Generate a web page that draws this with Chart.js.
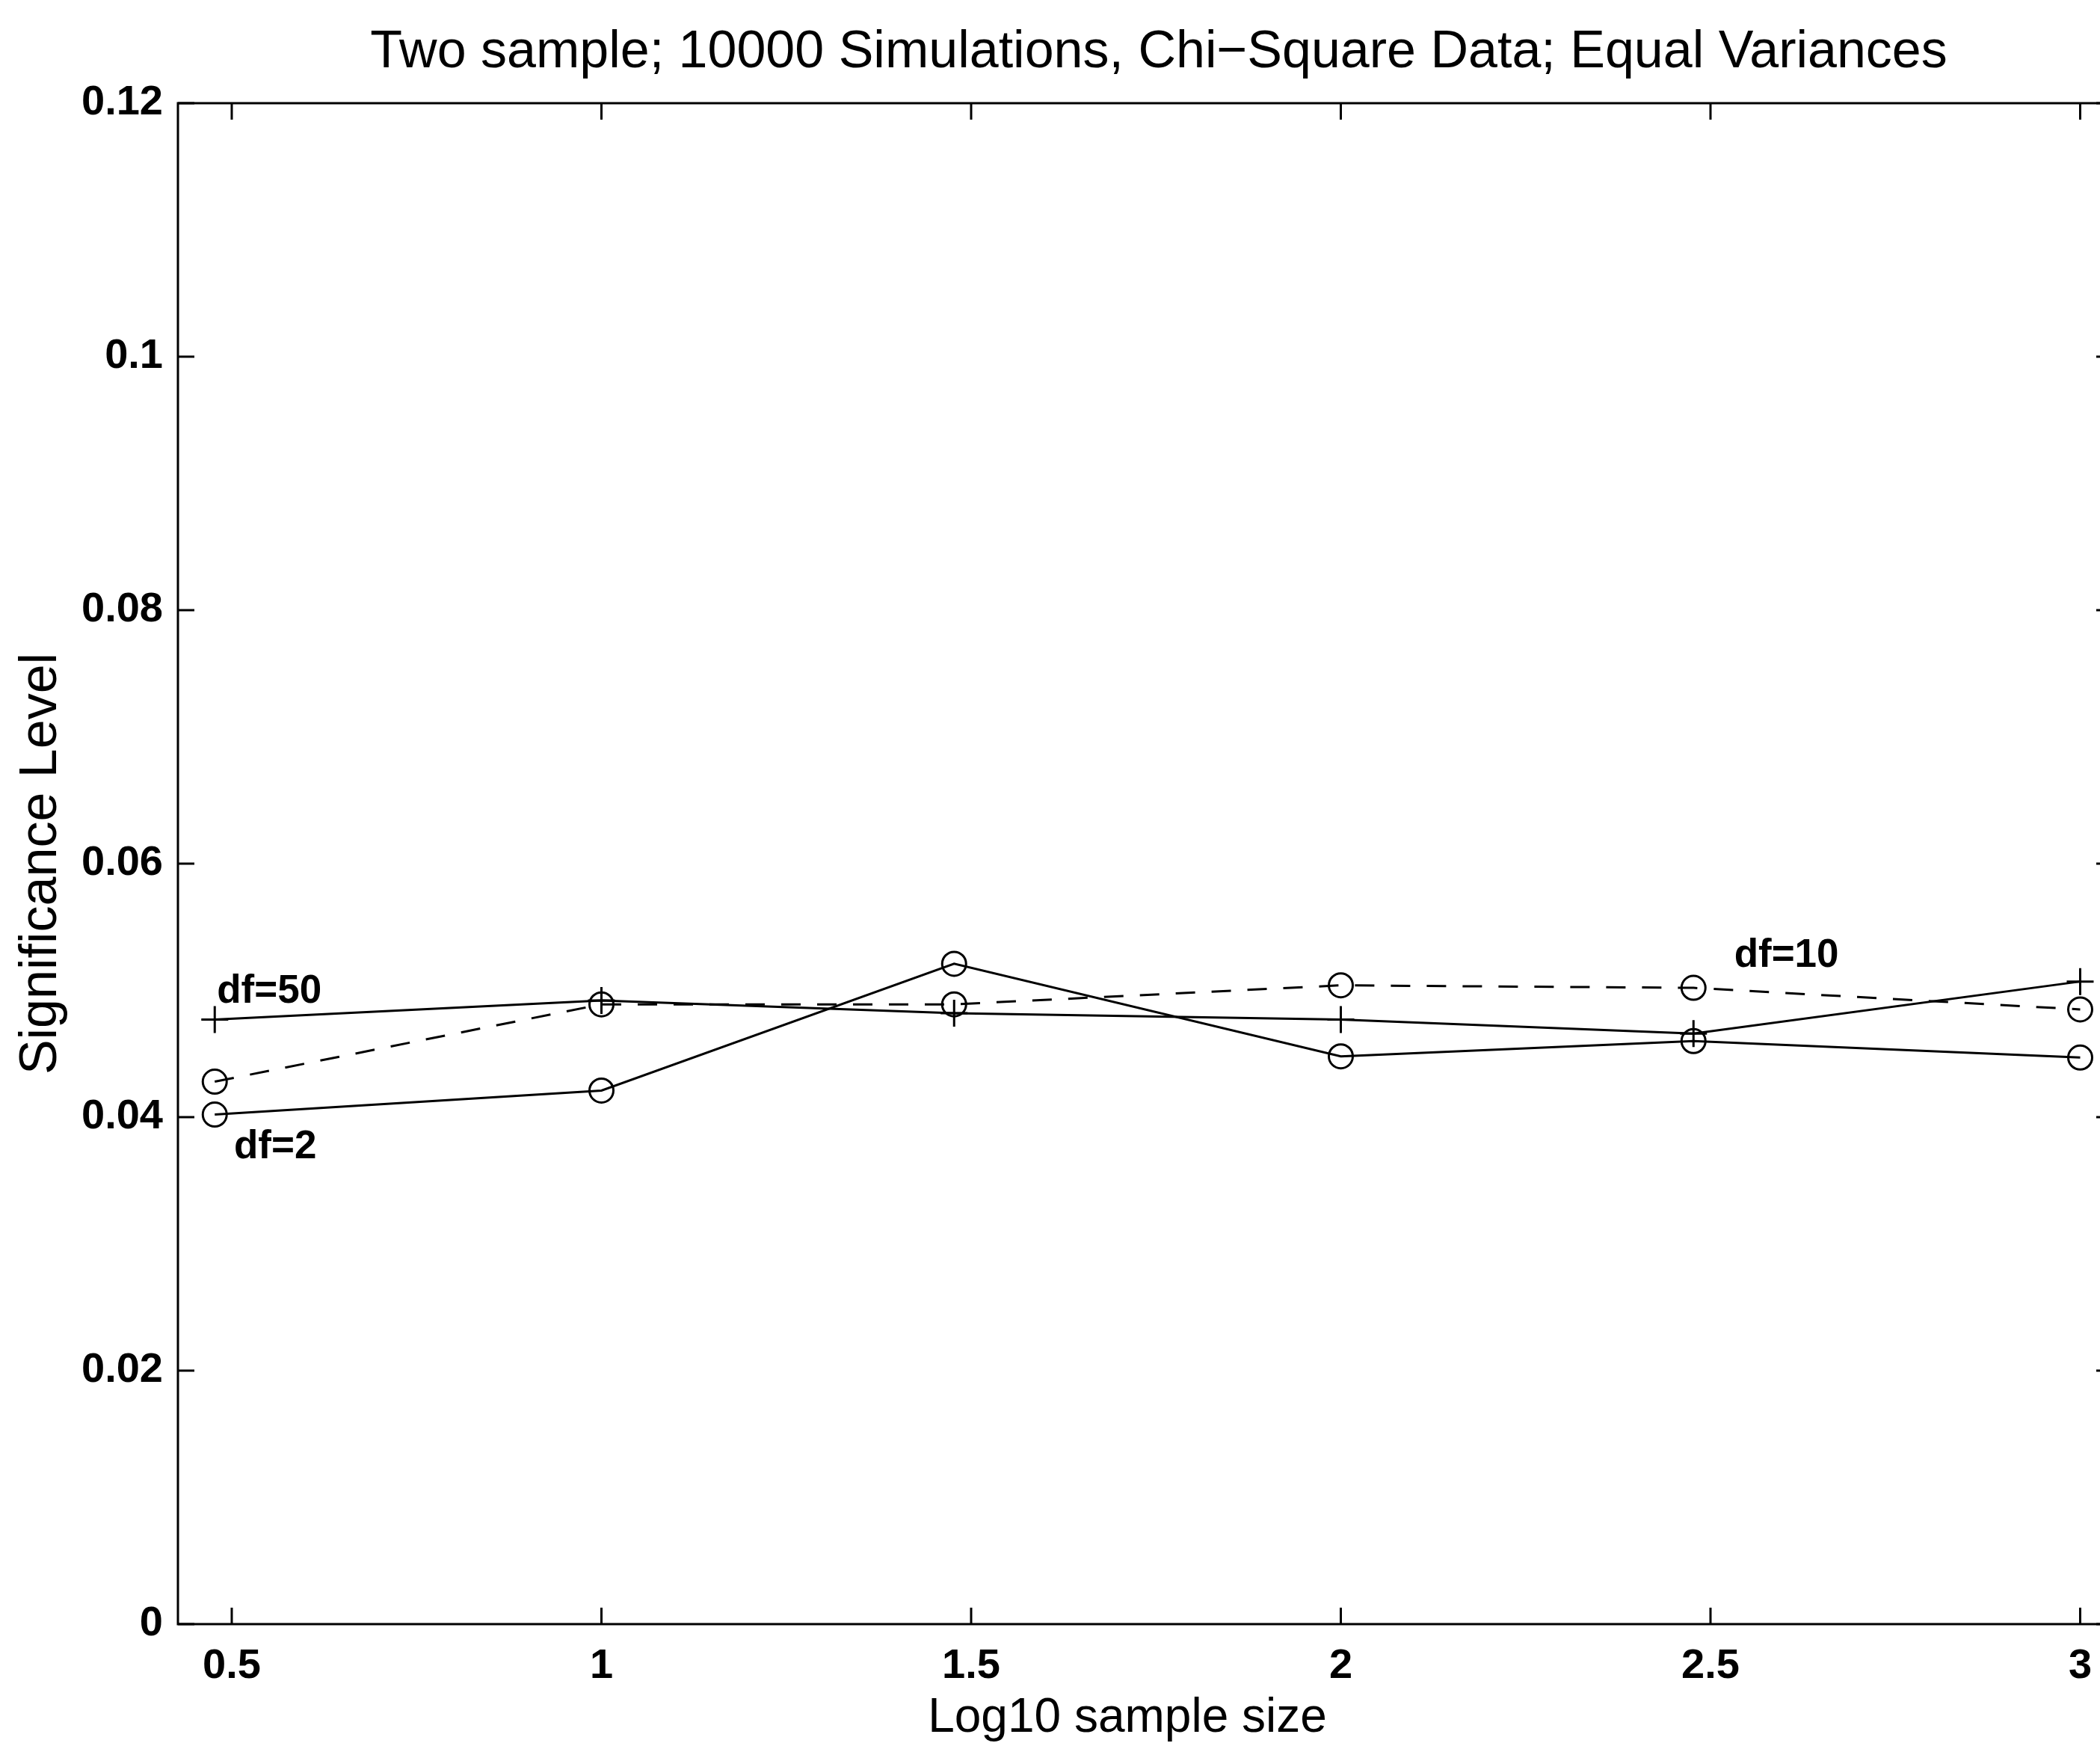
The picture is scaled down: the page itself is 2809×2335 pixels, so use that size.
<!DOCTYPE html>
<html>
<head>
<meta charset="utf-8">
<script src="https://cdn.jsdelivr.net/npm/chart.js@4.4.1/dist/chart.umd.min.js"></script>
<style>
  html, body { margin: 0; padding: 0; background: #fff; overflow: hidden; }
  canvas { display: block; }
</style>
</head>
<body>
<canvas id="sigChart" width="2809" height="2335"></canvas>
<script>
// log10 of the sample sizes 3, 10, 30, 100, 300, 1000
const logSampleSize = [0.477, 1, 1.477, 2, 2.477, 3];

// significance level per degrees of freedom
const sigDf2 = [0.0402, 0.0421, 0.0521, 0.0448, 0.0460, 0.0447];
const sigDf10 = [0.0428, 0.0489, 0.0489, 0.0504, 0.0502, 0.0485];
const sigDf50 = [0.0477, 0.0492, 0.0482, 0.0477, 0.0466, 0.0507];

const xTickValues = [0.5, 1, 1.5, 2, 2.5, 3];
const xTickLabels = ["0.5", "1", "1.5", "2", "2.5", "3"];
const yTickValues = [0, 0.02, 0.04, 0.06, 0.08, 0.1, 0.12];
const yTickLabels = ["0", "0.02", "0.04", "0.06", "0.08", "0.1", "0.12"];

const chartTitle = "Two sample; 10000 Simulations, Chi\u2212Square Data; Equal Variances";
const xAxisTitle = "Log10 sample size";
const yAxisTitle = "Significance Level";

const FONT = '"Liberation Sans", Arial, Helvetica, sans-serif';

function toPoints(ys) {
  return logSampleSize.map((x, i) => ({ x: x, y: ys[i] }));
}

// curve labels, placed in data coordinates
const curveNotes = [
  { text: "df=50", x: 0.480, y: 0.0499 },
  { text: "df=2", x: 0.503, y: 0.0376 },
  { text: "df=10", x: 2.532, y: 0.0527 }
];

const frameAndText = {
  id: "frameAndText",
  afterDatasetsDraw(chart) {
    const ctx = chart.ctx;
    const area = chart.chartArea;
    const xs = chart.scales.x;
    const ys = chart.scales.y;
    const tick = 22;

    ctx.save();
    ctx.strokeStyle = "#000";
    ctx.lineWidth = 3;

    // left, bottom and top edges; the right edge sits just past the canvas
    ctx.beginPath();
    ctx.moveTo(area.right, area.top);
    ctx.lineTo(area.left, area.top);
    ctx.lineTo(area.left, area.bottom);
    ctx.lineTo(area.right, area.bottom);
    ctx.stroke();

    // inward ticks
    ctx.beginPath();
    xTickValues.forEach(v => {
      const px = xs.getPixelForValue(v);
      ctx.moveTo(px, area.bottom);
      ctx.lineTo(px, area.bottom - tick);
      ctx.moveTo(px, area.top);
      ctx.lineTo(px, area.top + tick);
    });
    yTickValues.forEach(v => {
      const py = ys.getPixelForValue(v);
      ctx.moveTo(area.left, py);
      ctx.lineTo(area.left + tick, py);
      ctx.moveTo(area.right, py);
      ctx.lineTo(area.right - 5, py);
    });
    ctx.stroke();

    ctx.fillStyle = "#000";

    // x tick labels
    ctx.font = "bold 56px " + FONT;
    ctx.textAlign = "center";
    ctx.textBaseline = "alphabetic";
    xTickValues.forEach((v, i) => {
      ctx.fillText(xTickLabels[i], xs.getPixelForValue(v), area.bottom + 72);
    });

    // curve labels
    ctx.font = "bold 53px " + FONT;
    ctx.textAlign = "left";
    ctx.textBaseline = "middle";
    curveNotes.forEach(n => {
      ctx.fillText(n.text, xs.getPixelForValue(n.x), ys.getPixelForValue(n.y));
    });

    // title
    ctx.font = "70px " + FONT;
    ctx.textAlign = "center";
    ctx.textBaseline = "alphabetic";
    ctx.fillText(chartTitle, 1550, 90);

    // x axis title
    ctx.font = "64px " + FONT;
    ctx.fillText(xAxisTitle, 1508, 2316);

    // y axis title
    ctx.translate(56, (area.top + area.bottom) / 2);
    ctx.rotate(-Math.PI / 2);
    ctx.font = "70px " + FONT;
    ctx.textBaseline = "middle";
    ctx.fillText(yAxisTitle, 0, 0);

    ctx.restore();
  }
};

const lineStyle = {
  borderColor: "#000",
  borderWidth: 3,
  pointBorderColor: "#000",
  pointBackgroundColor: "rgba(0,0,0,0)",
  pointBorderWidth: 3,
  showLine: true,
  tension: 0,
  fill: false
};

new Chart(document.getElementById("sigChart"), {
  type: "scatter",
  data: {
    datasets: [
      Object.assign({}, lineStyle, {
        label: "df=2",
        data: toPoints(sigDf2),
        pointStyle: "circle",
        pointRadius: 16
      }),
      Object.assign({}, lineStyle, {
        label: "df=10",
        data: toPoints(sigDf10),
        borderDash: [26, 22],
        pointStyle: "circle",
        pointRadius: 16
      }),
      Object.assign({}, lineStyle, {
        label: "df=50",
        data: toPoints(sigDf50),
        pointStyle: "cross",
        pointRadius: 18
      })
    ]
  },
  options: {
    responsive: false,
    animation: false,
    devicePixelRatio: 1,
    layout: {
      autoPadding: false,
      padding: { left: 0, top: 138, right: 0, bottom: 0 }
    },
    plugins: {
      legend: { display: false },
      tooltip: { enabled: false }
    },
    scales: {
      x: {
        type: "linear",
        min: 0.4272,
        max: 3.0268,
        border: { display: false },
        grid: { display: false, drawTicks: false },
        afterBuildTicks: scale => {
          scale.ticks = xTickValues.map(v => ({ value: v }));
        },
        afterFit: scale => {
          scale.height = 163;
        },
        ticks: { display: false }
      },
      y: {
        type: "linear",
        min: 0,
        max: 0.12,
        border: { display: false },
        grid: { display: false, drawTicks: false },
        afterBuildTicks: scale => {
          scale.ticks = yTickValues.map(v => ({ value: v }));
        },
        afterFit: scale => {
          scale.width = 238;
        },
        ticks: {
          padding: 20,
          autoSkip: false,
          color: "#000",
          font: { family: FONT, size: 56, weight: "bold" },
          callback: (value, index) => yTickLabels[index]
        }
      }
    }
  },
  plugins: [frameAndText]
});
</script>
</body>
</html>
